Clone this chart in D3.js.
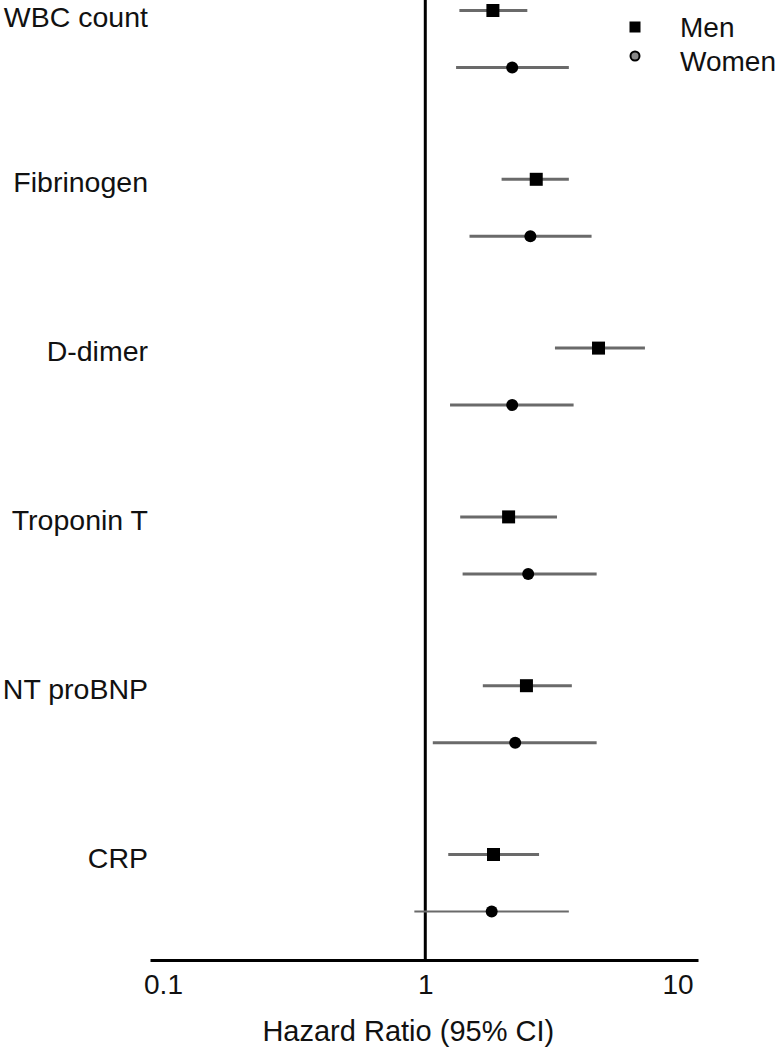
<!DOCTYPE html>
<html>
<head>
<meta charset="utf-8">
<script src="https://cdn.jsdelivr.net/npm/d3@7"></script>
<style>
  body { margin: 0; background: #fff; }
  text { font-family: "Liberation Sans", Arial, sans-serif; fill: #111; }
</style>
</head>
<body>
<div id="chart"></div>
<script>
// biomarkers, top to bottom
var markers = ["WBC count", "Fibrinogen", "D-dimer", "Troponin T", "NT proBNP", "CRP"];

// hazard ratios with 95% CI
var menHR  = [1.84, 2.72, 4.77, 2.12, 2.49, 1.85];
var menLo  = [1.36, 1.99, 3.22, 1.37, 1.68, 1.23];
var menHi  = [2.51, 3.65, 7.25, 3.28, 3.75, 2.79];

var womenHR = [2.19, 2.58, 2.19, 2.53, 2.25, 1.82];
var womenLo = [1.32, 1.49, 1.25, 1.40, 1.07, 0.906];
var womenHi = [3.65, 4.48, 3.81, 4.69, 4.69, 3.65];

var xTicks = [0.1, 1, 10];
var legendNames = ["Men", "Women"];

var width = 778, height = 1050;

var svg = d3.select("#chart").append("svg")
    .attr("width", width)
    .attr("height", height);

// log x scale, 1 sits at x=424
var x = d3.scaleLog()
    .domain([0.0835, 11.7])
    .range([150, 698]);

var y = d3.scalePoint()
    .domain(markers)
    .range([39, 883]);

var off = 28.5; // men above, women below group centre

var rows = [];
markers.forEach(function(m, i) {
    rows.push({ m: m, sex: "men", hr: menHR[i], lo: menLo[i], hi: menHi[i], y: y(m) - off });
    rows.push({ m: m, sex: "women", hr: womenHR[i], lo: womenLo[i], hi: womenHi[i], y: y(m) + off });
});

// reference line at HR = 1
svg.append("line")
    .attr("x1", x(1)).attr("x2", x(1))
    .attr("y1", 0).attr("y2", 960)
    .attr("stroke", "#000")
    .attr("stroke-width", 3);

// x axis
var axis = svg.append("g")
    .attr("transform", "translate(0,960)")
    .call(d3.axisBottom(x).tickValues(xTicks).tickFormat(d3.format("~g")).tickSize(0).tickPadding(14));
axis.select(".domain").attr("stroke", "#000").attr("stroke-width", 3);
axis.selectAll(".tick text")
    .attr("font-size", "28px")
    .attr("font-family", "Liberation Sans, Arial, sans-serif")
    .attr("fill", "#111")
    .attr("dx", function(d, i) { return i == 0 ? -7 : (i == 2 ? -3 : 0); });

svg.append("text")
    .attr("x", x(1) - 17)
    .attr("y", 1041)
    .attr("text-anchor", "middle")
    .attr("font-size", "29px")
    .text("Hazard Ratio (95% CI)");

// row labels (top one kept just inside the page)
svg.selectAll(".lbl")
    .data(markers)
    .enter()
    .append("text")
    .attr("class", "lbl")
    .attr("x", 148)
    .attr("y", function(d) { return Math.max(y(d) - off + 13, 26.5); })
    .attr("text-anchor", "end")
    .attr("font-size", "28.5px")
    .text(function(d) { return d; });

// CI whiskers
svg.selectAll(".ci")
    .data(rows)
    .enter()
    .append("line")
    .attr("class", "ci")
    .attr("x1", function(d) { return x(d.lo); })
    .attr("x2", function(d) { return x(d.hi); })
    .attr("y1", function(d) { return d.y; })
    .attr("y2", function(d) { return d.y; })
    .attr("stroke", "#6a6a6a")
    .attr("stroke-width", function(d, i) { return i == rows.length - 1 ? 2 : 3; });

// point estimates
svg.selectAll(".sq")
    .data(rows.filter(function(d) { return d.sex == "men"; }))
    .enter()
    .append("rect")
    .attr("class", "sq")
    .attr("x", function(d) { return x(d.hr) - 6.5; })
    .attr("y", function(d) { return d.y - 6.5; })
    .attr("width", 13)
    .attr("height", 13)
    .attr("fill", "#000");

svg.selectAll(".dot")
    .data(rows.filter(function(d) { return d.sex == "women"; }))
    .enter()
    .append("circle")
    .attr("class", "dot")
    .attr("cx", function(d) { return x(d.hr); })
    .attr("cy", function(d) { return d.y; })
    .attr("r", 6)
    .attr("fill", "#000");

// legend
var leg = svg.append("g").attr("transform", "translate(635,0)");
leg.append("rect")
    .attr("x", -5.5).attr("y", 21.5)
    .attr("width", 11).attr("height", 11)
    .attr("fill", "#000");
leg.append("circle")
    .attr("cx", 0).attr("cy", 56)
    .attr("r", 4.5)
    .attr("fill", "#888")
    .attr("stroke", "#000")
    .attr("stroke-width", 2);
leg.selectAll(".legtxt")
    .data(legendNames)
    .enter()
    .append("text")
    .attr("class", "legtxt")
    .attr("x", 45)
    .attr("y", function(d, i) { return 37 + i * 34; })
    .attr("font-size", "28px")
    .text(function(d) { return d; });
</script>
</body>
</html>
